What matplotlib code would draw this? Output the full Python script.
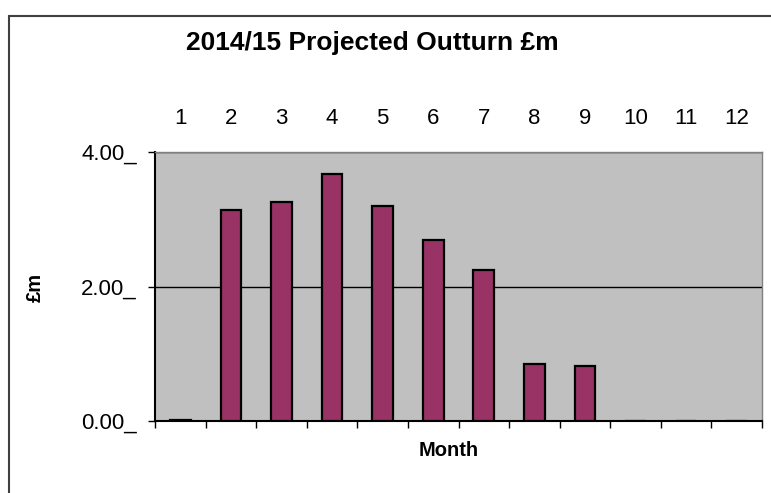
import matplotlib
matplotlib.use("Agg")
import matplotlib.pyplot as plt
import numpy as np
from matplotlib.patches import Rectangle

# data
months = ["1", "2", "3", "4", "5", "6", "7", "8", "9", "10", "11", "12"]
outturn = [0.01, 3.14, 3.26, 3.68, 3.19, 2.69, 2.25, 0.85, 0.82, 0.0, 0.0, 0.0]
y_ticks = [0.0, 2.0, 4.0]

plt.rcParams["font.family"] = ["Liberation Sans", "DejaVu Sans"]

fig = plt.figure(figsize=(7.71, 4.93), dpi=100)

# outer chart border (Excel style)
fig.patches.append(Rectangle((9 / 771, -0.1), 1.2, (493 - 16) / 493 + 0.1,
                             transform=fig.transFigure, fill=False,
                             edgecolor="#404040", linewidth=1.5))

ax = fig.add_axes([155 / 771, 1 - 421 / 493, (762 - 155) / 771, (421 - 152) / 493])
ax.set_facecolor("#C0C0C0")

x = np.arange(len(months))
ax.bar(x, outturn, width=0.41, color="#993366", edgecolor="black", linewidth=1.6, zorder=3)

ax.set_xlim(-0.5, len(months) - 0.5)
ax.set_ylim(0, 4)

# y axis
ax.set_yticks(y_ticks)
ax.set_yticklabels([f"{v:.2f}_" for v in y_ticks], fontsize=16)
ax.tick_params(axis="y", direction="out", length=5, width=1, pad=8)
ax.yaxis.grid(True, color="black", linewidth=1, zorder=1)
ax.set_axisbelow(True)

# x axis: labels on top, tick marks at the category boundaries below
ax.set_xticks(x)
ax.set_xticklabels(months, fontsize=16)
ax.tick_params(axis="x", which="major", bottom=False, top=False,
               labelbottom=False, labeltop=True, pad=13)
ax.set_xticks(np.arange(-0.5, len(months)), minor=True)
ax.tick_params(axis="x", which="minor", bottom=True, length=5, width=1, direction="out")

for side in ["left", "bottom"]:
    ax.spines[side].set_color("black")
    ax.spines[side].set_linewidth(1.5)
for side in ["top", "right"]:
    ax.spines[side].set_color("#808080")
    ax.spines[side].set_linewidth(1)

fig.text(372 / 771, 1 - 43 / 493, "2014/15 Projected Outturn £m",
         fontsize=19, fontweight="bold", ha="center", va="center")
fig.text(449 / 771, 1 - 451 / 493, "Month", fontsize=14.5, fontweight="bold",
         ha="center", va="center")
fig.text(35 / 771, 1 - 287 / 493, "£m", fontsize=14.5, fontweight="bold",
         ha="center", va="center", rotation=90)

fig.savefig("out.png", dpi=100)
